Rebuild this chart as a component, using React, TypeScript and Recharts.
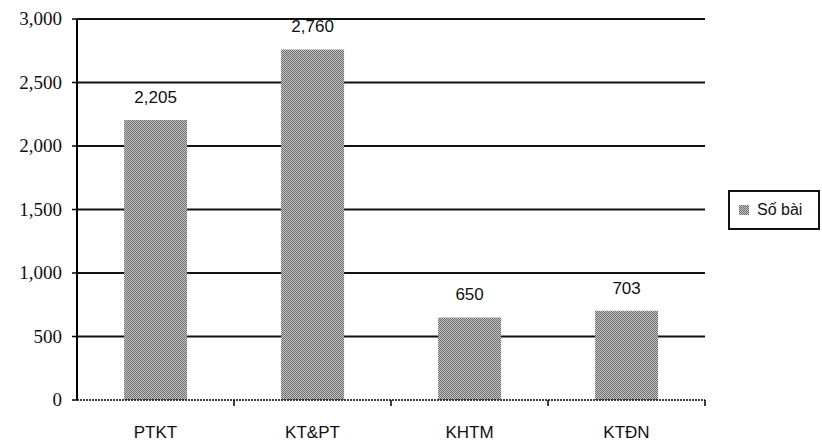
import React from "react";
import { BarChart, Bar, XAxis, YAxis, CartesianGrid, Legend, LabelList } from "recharts";

const categories = ["PTKT", "KT&PT", "KHTM", "KTĐN"];
const soBai = [2205, 2760, 650, 703];
const yTicks = [0, 500, 1000, 1500, 2000, 2500, 3000];

const data = categories.map((name, i) => ({ name, soBai: soBai[i] }));

const W = 822;
const H = 442;
const LEFT = 77;
const RIGHT = 117;
const HALF_BAND = (W - LEFT - RIGHT) / categories.length / 2;

const fmt = (v: number) => v.toLocaleString("en-US");

function XTick(props: any) {
  const { x, y, payload } = props;
  return (
    <g>
      <text
        x={x}
        y={y}
        dy={38}
        textAnchor="middle"
        fontFamily="Liberation Sans, Arial, sans-serif"
        fontSize={17}
        fill="#111"
      >
        {payload.value}
      </text>
      <line x1={x + HALF_BAND} x2={x + HALF_BAND} y1={y} y2={y + 6} stroke="#000" strokeWidth={1.5} />
    </g>
  );
}

function YTick(props: any) {
  const { x, y, payload } = props;
  return (
    <text
      x={x}
      y={y}
      dy={6}
      textAnchor="end"
      fontFamily="'Liberation Serif', 'Times New Roman', serif"
      fontSize={19}
      fill="#111"
    >
      {fmt(payload.value)}
    </text>
  );
}

function LegendBox() {
  return (
    <div
      style={{
        width: 88,
        height: 36,
        border: "2px solid #111",
        background: "#fff",
        display: "flex",
        alignItems: "center",
        fontFamily: "Liberation Sans, Arial, sans-serif",
        fontSize: 16,
        color: "#111",
      }}
    >
      <svg width={10} height={10} style={{ marginLeft: 9, marginRight: 8 }}>
        <rect width={10} height={10} fill="url(#dither)" />
      </svg>
      <span>Số bài</span>
    </div>
  );
}

export default function App() {
  return (
    <div style={{ width: W, height: H, background: "#fff", position: "relative" }}>
      <style>{`body{margin:0}`}</style>
      <BarChart
        width={W}
        height={H}
        data={data}
        margin={{ top: 19, right: RIGHT, bottom: 0, left: 0 }}
        barCategoryGap="30%"
      >
        <defs>
          <pattern id="dither" width={2} height={2} patternUnits="userSpaceOnUse">
            <rect width={2} height={2} fill="#c4c4c4" />
            <rect width={1} height={1} fill="#6e6e6e" />
            <rect x={1} y={1} width={1} height={1} fill="#6e6e6e" />
          </pattern>
        </defs>
        <CartesianGrid
          vertical={false}
          stroke="#111"
          strokeWidth={2}
          horizontalCoordinatesGenerator={({ offset }: any) =>
            yTicks
              .filter((v) => v > 0)
              .map((v) => offset.top + offset.height * (1 - v / 3000))
          }
        />
        <XAxis
          dataKey="name"
          height={42}
          tickLine={false}
          tickSize={0}
          tickMargin={0}
          axisLine={{ stroke: "#000", strokeWidth: 1.5, strokeDasharray: "2 1" }}
          tick={<XTick />}
          interval={0}
        />
        <YAxis
          width={LEFT}
          domain={[0, 3000]}
          ticks={yTicks}
          tickSize={5}
          tickMargin={10}
          axisLine={{ stroke: "#000", strokeWidth: 2 }}
          tickLine={{ stroke: "#000", strokeWidth: 1.5 }}
          tick={<YTick />}
        />
        <Legend
          layout="horizontal"
          verticalAlign="middle"
          align="center"
          content={<LegendBox />}
          wrapperStyle={{ left: 728, top: 190, width: 92, height: 40 }}
        />
        <Bar dataKey="soBai" name="Số bài" fill="url(#dither)" isAnimationActive={false}>
          <LabelList
            dataKey="soBai"
            position="top"
            offset={17}
            formatter={(v: any) => fmt(Number(v))}
            style={{ fontFamily: "Liberation Sans, Arial, sans-serif", fontSize: 17, fill: "#111" }}
          />
        </Bar>
      </BarChart>
    </div>
  );
}
